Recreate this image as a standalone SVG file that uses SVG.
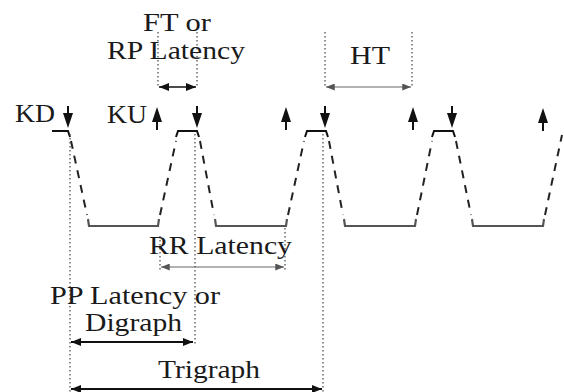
<svg xmlns="http://www.w3.org/2000/svg" xmlns:xlink="http://www.w3.org/1999/xlink" width="564" height="392" viewBox="0 0 564 392">
<style>
  text { font-family: "Liberation Serif", "Times New Roman", serif; font-size: 26px; fill: #1a1a1a; }
  .top { fill: none; stroke: #111; stroke-width: 2; }
  .bot { fill: none; stroke: #555; stroke-width: 2.2; }
  .edge { fill: none; stroke: #222; stroke-width: 2; stroke-dasharray: 8 7; }
  .guide { fill: none; stroke: #444; stroke-width: 1.2; stroke-dasharray: 1.5 2.5; }
  .meas { fill: none; stroke: #111; stroke-width: 1.6; }
  .measThin { fill: none; stroke: #666; stroke-width: 1.2; }
  .measBold { fill: none; stroke: #111; stroke-width: 2.2; }
</style>
<defs>
  <marker id="ah" viewBox="0 0 10 8" refX="10" refY="4" markerWidth="10" markerHeight="8" markerUnits="userSpaceOnUse" orient="auto-start-reverse">
    <path d="M0,0 L10,4 L0,8 Z" fill="#111"/>
  </marker>
  <marker id="ahThin" viewBox="0 0 10 8" refX="10" refY="4" markerWidth="9" markerHeight="7" markerUnits="userSpaceOnUse" orient="auto-start-reverse">
    <path d="M0,0 L10,4 L0,8 Z" fill="#555"/>
  </marker>
  <g id="dn">
    <line x1="0" y1="-22" x2="0" y2="-12" stroke="#111" stroke-width="2"/>
    <path d="M-5,-15 L5,-15 L0,0 Z" fill="#111"/>
  </g>
  <g id="up">
    <line x1="0" y1="12" x2="0" y2="23" stroke="#111" stroke-width="2"/>
    <path d="M-5,15 L5,15 L0,0 Z" fill="#111"/>
  </g>
</defs>
<rect width="564" height="392" fill="#fff"/>

<g id="waveform">
  <path class="top" d="M52 131 H68 L70 137"/>
  <path class="top" d="M176 137 L178 131 H197 L199 137"/>
  <path class="top" d="M305 137 L307 131 H326 L328 137"/>
  <path class="top" d="M432 137 L434 131 H453 L455 137"/>
  <path class="bot" d="M88 219 L89 226 H158 L159 219"/>
  <path class="bot" d="M215 219 L216 226 H286 L287 219"/>
  <path class="bot" d="M344 219 L345 226 H415 L416 219"/>
  <path class="bot" d="M472 219 L473 226 H543 L544 219"/>
  <path class="edge" d="M71 141 L87 215"/>
  <path class="edge" d="M160 215 L176 141"/>
  <path class="edge" d="M200 141 L214 215"/>
  <path class="edge" d="M288 215 L304 141"/>
  <path class="edge" d="M329 141 L343 215"/>
  <path class="edge" d="M417 215 L432 141"/>
  <path class="edge" d="M456 141 L471 215"/>
  <path class="edge" d="M545 215 L562 135"/>
</g>

<g id="key-events">
  <text x="15" y="122" textLength="40" lengthAdjust="spacingAndGlyphs">KD</text>
  <use xlink:href="#dn" x="68" y="128"/>
  <text x="107" y="123" textLength="40" lengthAdjust="spacingAndGlyphs">KU</text>
  <use xlink:href="#up" x="157" y="107"/>
  <use xlink:href="#dn" x="197" y="128"/>
  <use xlink:href="#up" x="286" y="107"/>
  <use xlink:href="#dn" x="325" y="128"/>
  <use xlink:href="#up" x="413" y="107"/>
  <use xlink:href="#dn" x="452" y="128"/>
  <use xlink:href="#up" x="543" y="108"/>
</g>

<g id="connectors">
  <line class="guide" x1="158" y1="32" x2="158" y2="87"/>
  <line class="guide" x1="197" y1="32" x2="197" y2="87"/>
  <line class="guide" x1="325" y1="32" x2="325" y2="86"/>
  <line class="guide" x1="412" y1="32" x2="412" y2="86"/>
  <line class="guide" x1="70" y1="134" x2="70" y2="392"/>
  <line class="guide" x1="195" y1="134" x2="195" y2="346"/>
  <line class="guide" x1="323" y1="134" x2="323" y2="392"/>
  <line class="guide" x1="160" y1="236" x2="160" y2="270"/>
  <line class="guide" x1="285" y1="228" x2="285" y2="270"/>
  <line class="meas" x1="159" y1="87" x2="196" y2="87" marker-start="url(#ah)" marker-end="url(#ah)"/>
  <line class="measThin" x1="326" y1="87" x2="411" y2="87" marker-start="url(#ahThin)" marker-end="url(#ahThin)"/>
  <line class="measThin" x1="161" y1="267" x2="284" y2="267" marker-start="url(#ahThin)" marker-end="url(#ahThin)"/>
  <line class="measBold" x1="71" y1="342" x2="193" y2="342" marker-start="url(#ah)" marker-end="url(#ah)"/>
  <line class="measBold" x1="71" y1="389" x2="322" y2="389" marker-start="url(#ah)" marker-end="url(#ah)"/>
</g>

<g id="labels">
  <text x="143" y="31" textLength="68" lengthAdjust="spacingAndGlyphs">FT or</text>
  <text x="107" y="59" textLength="138" lengthAdjust="spacingAndGlyphs">RP Latency</text>
  <text x="350" y="64" textLength="40" lengthAdjust="spacingAndGlyphs">HT</text>
  <text x="149" y="254" textLength="143" lengthAdjust="spacingAndGlyphs">RR Latency</text>
  <text x="50" y="304" textLength="170" lengthAdjust="spacingAndGlyphs">PP Latency or</text>
  <text x="85" y="331" textLength="97" lengthAdjust="spacingAndGlyphs">Digraph</text>
  <text x="158" y="378" textLength="102" lengthAdjust="spacingAndGlyphs">Trigraph</text>
</g>
</svg>
